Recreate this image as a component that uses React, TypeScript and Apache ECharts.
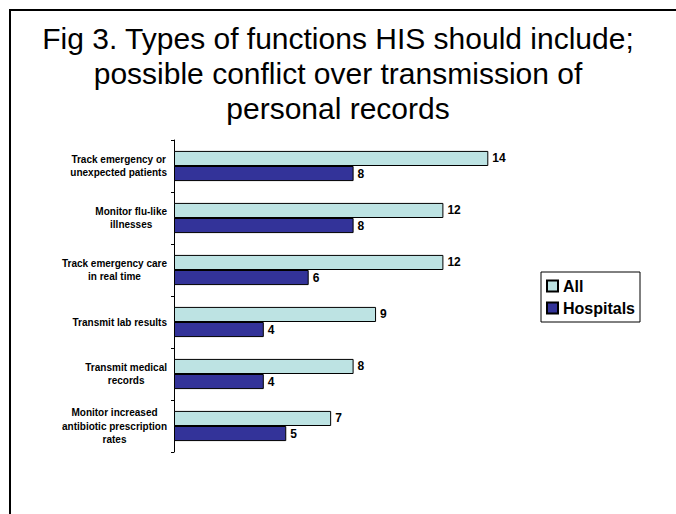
import React, { useEffect, useRef } from "react";
import * as echarts from "echarts";

const titleLines = [
  "Fig 3. Types of functions HIS should include;",
  "possible conflict over transmission of",
  "personal records",
];
const categories = [
  "Track emergency or\nunexpected patients",
  "Monitor flu-like\nillnesses",
  "Track emergency care\nin real time",
  "Transmit lab results",
  "Transmit medical\nrecords",
  "Monitor increased\nantibiotic prescription\nrates",
];
const seriesNames = ["All", "Hospitals"];
const allValues = [14, 12, 12, 9, 8, 7];
const hospitalValues = [8, 8, 6, 4, 4, 5];
const xMax = 16;

const FONT = "'Liberation Sans', Arial, Helvetica, sans-serif";

export default function App() {
  const ref = useRef<HTMLDivElement>(null);
  useEffect(() => {
    if (!ref.current) return;
    const chart = echarts.init(ref.current, null, { renderer: "svg" });
    const labelCfg = {
      show: true,
      position: "right",
      distance: 4,
      color: "#000",
      fontFamily: FONT,
      fontWeight: "bold",
      fontSize: 12,
    };
    chart.setOption({
      animation: false,
      backgroundColor: "#fff",
      title: {
        text: titleLines.join("\n"),
        left: "center",
        top: 21,
        padding: 0,
        textStyle: {
          fontFamily: FONT,
          fontSize: 30,
          fontWeight: "normal",
          lineHeight: 35,
          color: "#000",
        },
      },
      legend: {
        orient: "vertical",
        left: 541,
        top: 272,
        padding: [6, 5, 6, 5],
        itemGap: 6,
        itemWidth: 11,
        itemHeight: 11,
        borderColor: "#000",
        borderWidth: 1,
        icon: "rect",
        data: seriesNames,
        textStyle: {
          fontFamily: FONT,
          fontWeight: "bold",
          fontSize: 16,
          color: "#000",
        },
      },
      grid: {
        left: 174,
        top: 140,
        width: 359.2,
        height: 312,
        containLabel: false,
      },
      xAxis: {
        type: "value",
        min: 0,
        max: xMax,
        show: false,
      },
      yAxis: {
        type: "category",
        inverse: true,
        data: categories,
        axisLine: { show: true, lineStyle: { color: "#000", width: 1 } },
        axisTick: { show: true, length: 3, lineStyle: { color: "#000" } },
        axisLabel: {
          margin: 7,
          color: "#000",
          fontFamily: FONT,
          fontWeight: "bold",
          fontSize: 10,
          lineHeight: 13.5,
          align: "right",
          formatter: (v: string) =>
            v
              .split("\n")
              .map((l) => `{c|${l}}`)
              .join("\n"),
          rich: {
            c: {
              align: "center",
              color: "#000",
              fontFamily: FONT,
              fontWeight: "bold",
              fontSize: 10,
              lineHeight: 13.5,
            },
          },
        },
        splitLine: { show: false },
      },
      series: [
        {
          name: seriesNames[0],
          type: "bar",
          data: allValues,
          barCategoryGap: "42%",
          barGap: "0%",
          itemStyle: { color: "#BDE3E3", borderColor: "#000", borderWidth: 1 },
          label: labelCfg,
        },
        {
          name: seriesNames[1],
          type: "bar",
          data: hospitalValues,
          barCategoryGap: "42%",
          barGap: "0%",
          itemStyle: { color: "#333399", borderColor: "#000", borderWidth: 1 },
          label: labelCfg,
        },
      ],
      graphic: [
        {
          type: "line",
          shape: { x1: 9, y1: 10, x2: 676, y2: 10 },
          style: { stroke: "#000", lineWidth: 2 },
        },
        {
          type: "line",
          shape: { x1: 10, y1: 9, x2: 10, y2: 514 },
          style: { stroke: "#000", lineWidth: 2 },
        },
      ],
    });
    return () => chart.dispose();
  }, []);
  return (
    <div
      ref={ref}
      style={{ position: "fixed", left: 0, top: 0, width: 676, height: 514 }}
    />
  );
}
